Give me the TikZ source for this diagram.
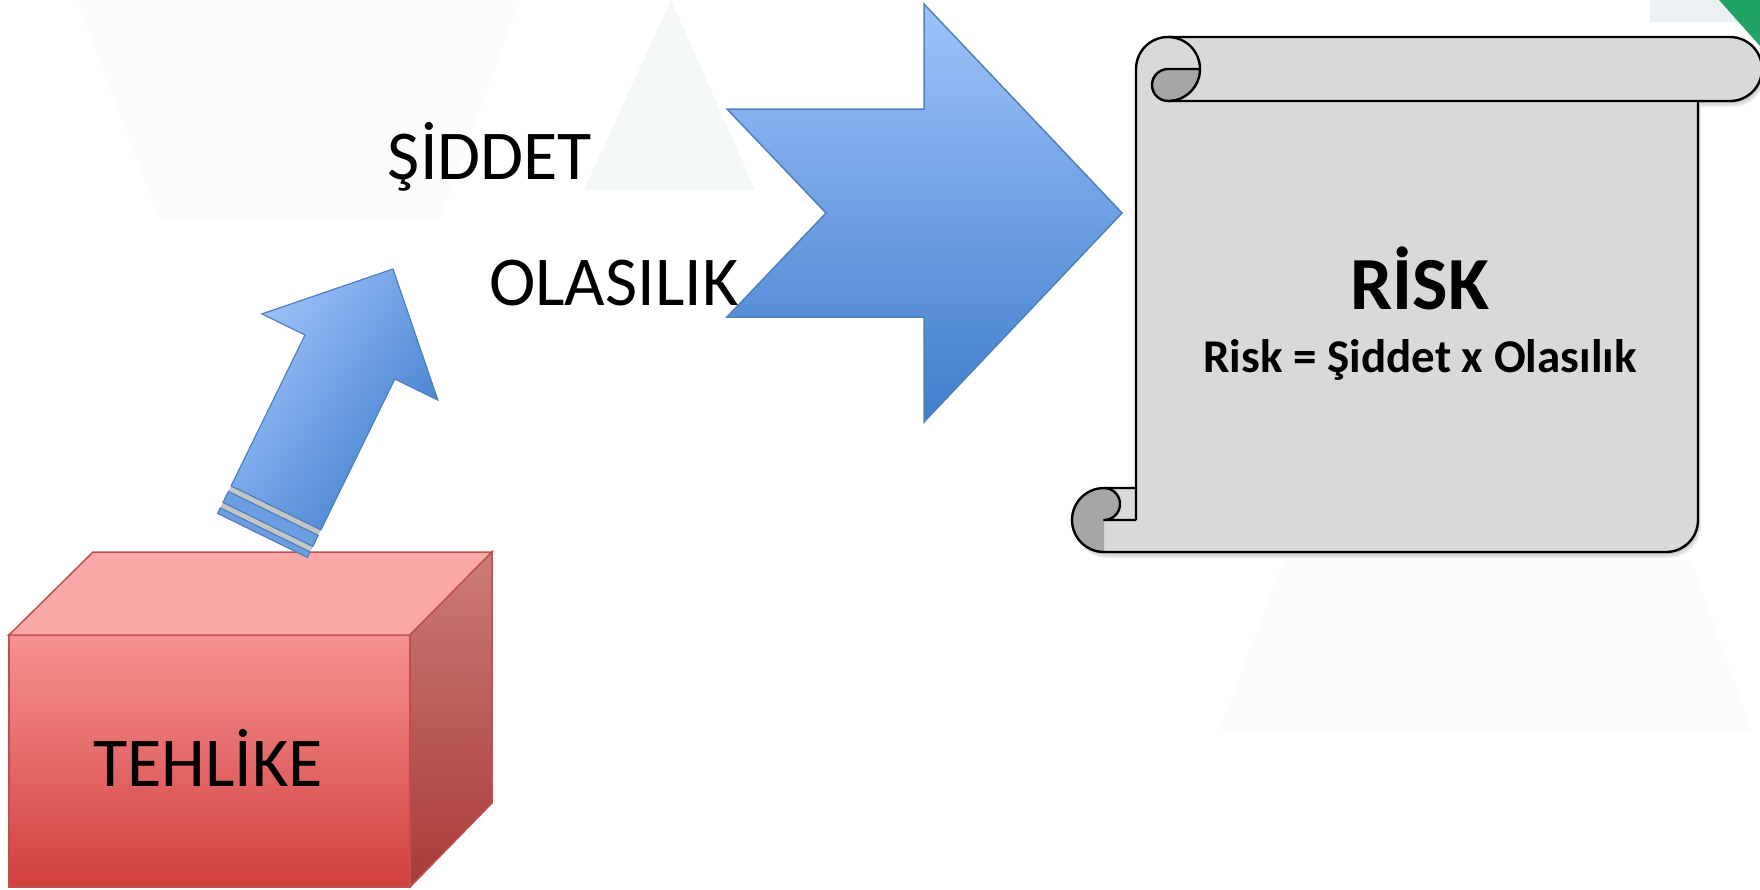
\documentclass[tikz,border=0pt]{standalone}
\usepackage{fontspec}
\setmainfont{Carlito}
\definecolor{bluelt}{HTML}{9EC3FA}
\definecolor{bluedk}{HTML}{3F7DCC}
\definecolor{bluemid}{HTML}{6E9EE2}
\definecolor{blueln}{HTML}{4F81BD}
\definecolor{redtop}{HTML}{FAA9A8}
\definecolor{redfrontT}{HTML}{F69291}
\definecolor{redfrontB}{HTML}{D1403E}
\definecolor{redsideT}{HTML}{CC7B79}
\definecolor{redsideB}{HTML}{A83B39}
\definecolor{redln}{HTML}{C0504D}
\definecolor{scrollfill}{HTML}{D9D9D9}
\definecolor{scrolldark}{HTML}{A6A6A6}
\definecolor{faintA}{HTML}{F5F8F9}
\definecolor{faintB}{HTML}{FBFCFC}
\definecolor{faintC}{HTML}{EBF0F2}
\definecolor{greenc}{HTML}{21A366}
\newcommand\myscrolloutline{(1136,-520) -- (1136,-69) arc[start angle=180,end angle=90,radius=32pt]
  -- (1730,-37) arc[start angle=90,end angle=-90,radius=32pt] -- (1698,-101) -- (1698,-520)
  arc[start angle=0,end angle=-90,radius=32pt] -- (1104,-552)
  arc[start angle=-90,end angle=-270,radius=32pt] -- (1136,-488) -- cycle}
\begin{document}
\begin{tikzpicture}[x=1pt,y=1pt,
  lbl/.style={font=\fontsize{70}{84}\selectfont, anchor=base, inner sep=0pt},
  boxline/.style={draw=redln, line width=1.5pt},
  bluearrow/.style={draw=blueln, line width=1.5pt, line join=miter},
  scrollline/.style={draw=black, line width=2.4pt, line join=round}]
\useasboundingbox (0,0) rectangle (1760,-889);
\fill[white] (0,0) rectangle (1760,-889);
% faint background shapes
\fill[faintB] (77,0) -- (520,0) -- (440,-220) -- (160,-220) -- cycle;
\fill[faintA] (584,-190) -- (755,-190) -- (671,0) -- cycle;
\fill[faintB] (1284,-560) -- (1691,-560) -- (1752,-732) -- (1219,-732) -- cycle;
\fill[faintC] (1650,0) -- (1718,0) -- (1740,-22) -- (1650,-22) -- cycle;
\fill[greenc] (1719,0) -- (1760,0) -- (1760,-46) -- cycle;
% box
\path[boxline, top color=redfrontT, bottom color=redfrontB] (9,-635) rectangle (410,-887);
\path[boxline, fill=redtop] (9,-635) -- (93,-552) -- (492,-552) -- (410,-635) -- cycle;
\path[boxline, top color=redsideT, bottom color=redsideB] (410,-635) -- (492,-552) -- (492,-803) -- (410,-887) -- cycle;
% small striped arrow
\fill[gray!45] (231.1,-485.9) -- (320.9,-529.9) -- (307.4,-557.4) -- (217.6,-513.4) -- cycle;
\path[bluearrow, line width=1.2pt, fill=bluemid] (228.4,-491.4) -- (318.2,-535.4) -- (312.8,-546.4) -- (223.0,-502.4) -- cycle;
\path[bluearrow, line width=1.2pt, fill=bluemid] (220.3,-507.9) -- (310.1,-551.9) -- (307.4,-557.4) -- (217.6,-513.4) -- cycle;
\path[bluearrow, line width=1.2pt, top color=bluelt, bottom color=bluedk, shading angle=55]
  (393,-269) -- (437.9,-400.1) -- (394.8,-379) -- (320.9,-529.9) -- (231.1,-485.9) -- (305,-335) -- (261.9,-313.9) -- cycle;
% big notched arrow
\path[bluearrow, top color=bluelt, bottom color=bluedk]
  (727,-109) -- (924,-109) -- (924,-4) -- (1122,-213) -- (924,-422) -- (924,-317) -- (727,-317) -- (826,-213) -- cycle;
% scroll shadow
\begin{scope}[shift={(3,-6)}]
  \fill[black, opacity=0.07] \myscrolloutline;
\end{scope}
\begin{scope}[shift={(2,-4)}]
  \fill[black, opacity=0.08] \myscrolloutline;
\end{scope}
\begin{scope}[shift={(1,-2)}]
  \fill[black, opacity=0.10] \myscrolloutline;
\end{scope}
% scroll
\fill[scrollfill] \myscrolloutline;
\fill[scrolldark] (1168,-69) -- (1200,-69) arc[start angle=0,end angle=-90,radius=32pt]
  arc[start angle=-90,end angle=-270,radius=16pt] -- cycle;
\fill[scrolldark] (1104,-552) arc[start angle=-90,end angle=-270,radius=32pt]
  arc[start angle=90,end angle=-90,radius=16pt] -- cycle;
\path[scrollline] (1136,-520) -- (1136,-69) arc[start angle=180,end angle=90,radius=32pt]
  -- (1730,-37) arc[start angle=90,end angle=-90,radius=32pt] -- (1168,-101);
\path[scrollline] (1168,-37) arc[start angle=90,end angle=-90,radius=32pt];
\path[scrollline] (1200,-69) -- (1168,-69) arc[start angle=90,end angle=270,radius=16pt];
\path[scrollline] (1698,-101) -- (1698,-520) arc[start angle=0,end angle=-90,radius=32pt]
  -- (1104,-552) arc[start angle=-90,end angle=-270,radius=32pt] -- (1136,-488);
\path[scrollline] (1104,-488) arc[start angle=90,end angle=-90,radius=16pt] -- (1136,-520);
% texts
\node[lbl] (siddet) at (490,-179) {ŞİDDET};
\node[lbl] (olasilik) at (614,-305) {OLASILIK};
\node[lbl] (tehlike) at (208,-786) {TEHLİKE};
\node[lbl, font=\fontsize{75}{90}\selectfont\bfseries] (risk) at (1420,-309) {RİSK};
\node[lbl, font=\fontsize{47}{56}\selectfont\bfseries] (formula) at (1420,-372) {Risk = Şiddet x Olasılık};
\end{tikzpicture}
\end{document}
